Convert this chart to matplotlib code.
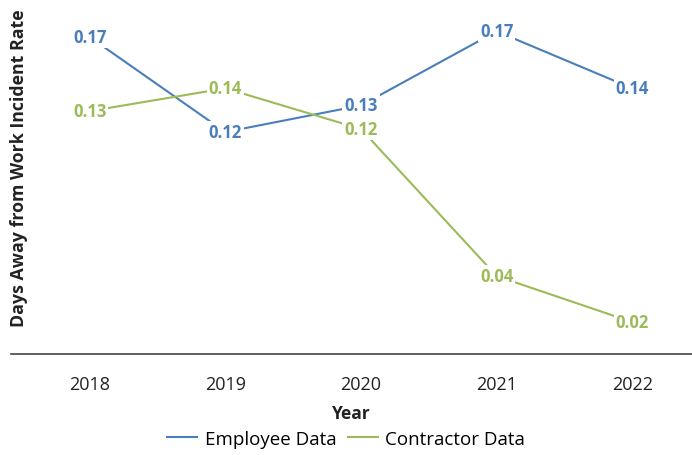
import matplotlib.pyplot as plt

plt.rcParams['font.family'] = ['Open Sans', 'DejaVu Sans']

YEARS = ["2018", "2019", "2020", "2021", "2022"]
EMPLOYEE = [0.170, 0.120, 0.134, 0.173, 0.143]
CONTRACTOR = [0.131, 0.143, 0.1216, 0.0442, 0.020]

BLUE = "#4a7ebb"
GREEN = "#9bbb59"

fig = plt.figure(figsize=(6.92, 4.56), dpi=100)
ax = fig.add_axes([11 / 692, 1 - 355 / 456, 681 / 692, 355 / 456])

xs = list(range(len(YEARS)))

def plotSeries(ax, values, color, label):
    ax.plot(xs, values, c=color, lw=1.5, label=label, zorder=2)
    for x, v in zip(xs, values):
        ax.text(x, v, f"{v:.2f}", color=color, fontsize=12, fontweight="bold",
                ha="center", va="center", zorder=3,
                bbox=dict(facecolor="white", edgecolor="none", pad=1.5))

plotSeries(ax, EMPLOYEE, BLUE, "Employee Data")
plotSeries(ax, CONTRACTOR, GREEN, "Contractor Data")

ax.set_xlim(-0.58, 4.44)
ax.set_ylim(0.0032, 0.19)
ax.set_xticks(xs)
ax.set_xticklabels(YEARS, fontsize=13, color="#222222")
ax.tick_params(axis="x", length=0, pad=15)
ax.set_yticks([])
for side in ["top", "right", "left"]:
    ax.spines[side].set_visible(False)
ax.spines["bottom"].set_color("#444444")
ax.spines["bottom"].set_linewidth(1.2)

ax.set_xlabel("Year", fontsize=12.5, fontweight="bold", color="#222222", labelpad=8)

fig.text(19 / 692, 1 - 168 / 456, "Days Away from Work Incident Rate", rotation=90,
         ha="center", va="center", fontsize=12.8, fontweight="bold", color="#222222")

ax.legend(loc="center", bbox_to_anchor=(0.5 - 11 / 681 / 2, -(440 - 355) / 355), ncol=2,
          frameon=False, fontsize=13.5, handlelength=1.6, columnspacing=0.6,
          handletextpad=0.4)

fig.savefig("out.png", dpi=100)
